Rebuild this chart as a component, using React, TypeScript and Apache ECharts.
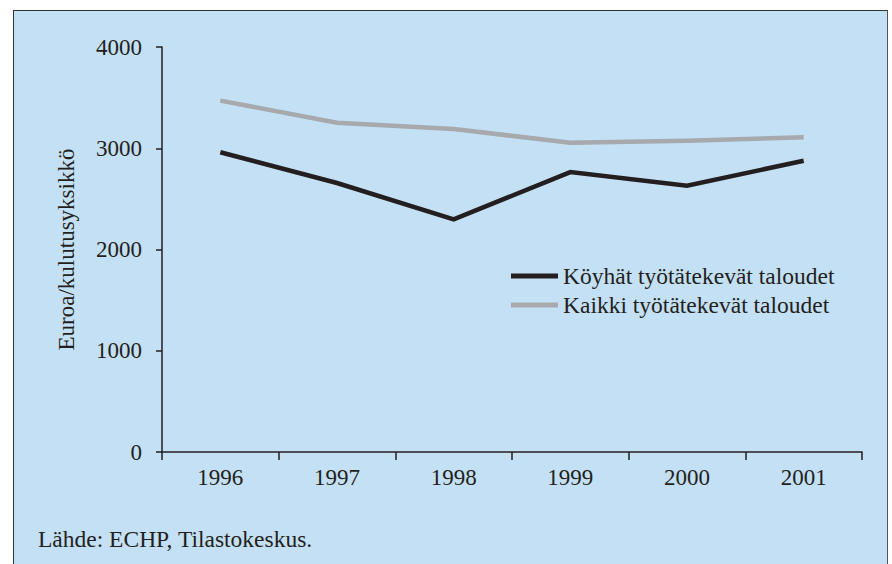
import React, { useEffect, useRef } from "react";
import * as echarts from "echarts";

const years = ["1996", "1997", "1998", "1999", "2000", "2001"];
const poorWorking = [2960, 2657, 2298, 2765, 2630, 2877];
const allWorking = [3470, 3252, 3190, 3055, 3075, 3108];
const seriesNames = ["Köyhät työtätekevät taloudet", "Kaikki työtätekevät taloudet"];
const yAxisTitle = "Euroa/kulutusyksikkö";
const sourceText = "Lähde: ECHP, Tilastokeskus.";

const FONT = "Liberation Serif";
const INK = "#231f20";
const GREY = "#a7a9ac";

export default function App() {
  const ref = useRef<HTMLDivElement>(null);
  useEffect(() => {
    if (!ref.current) return;
    const chart = echarts.init(ref.current, undefined, { renderer: "svg" });
    chart.setOption({
      animation: false,
      textStyle: { fontFamily: FONT, color: INK },
      grid: { left: 162, right: 30, top: 47, bottom: 112, containLabel: false },
      xAxis: {
        type: "category",
        data: years,
        boundaryGap: true,
        axisLine: { lineStyle: { color: INK, width: 1.5 } },
        axisTick: { show: true, length: 8, lineStyle: { color: INK, width: 1.5 } },
        axisLabel: { color: INK, fontSize: 23, fontFamily: FONT, margin: 14 },
      },
      yAxis: {
        type: "value",
        min: 0,
        max: 4000,
        interval: 1000,
        name: yAxisTitle,
        nameLocation: "middle",
        nameRotate: 90,
        nameGap: 84,
        nameTextStyle: { color: INK, fontSize: 23, fontFamily: FONT },
        axisLine: { show: true, lineStyle: { color: INK, width: 1.5 } },
        axisTick: { show: true, length: 6, lineStyle: { color: INK, width: 1.5 } },
        axisLabel: {
          color: INK,
          fontSize: 23,
          fontFamily: FONT,
          margin: 20,
          formatter: (v: number) => String(v),
        },
        splitLine: { show: false },
      },
      legend: {
        orient: "vertical",
        left: 511,
        top: 264,
        padding: 0,
        icon: "rect",
        itemWidth: 47,
        itemHeight: 5,
        itemGap: 5,
        textStyle: { color: INK, fontSize: 23.5, fontFamily: FONT },
        data: seriesNames,
      },
      graphic: [
        {
          type: "text",
          left: 38,
          top: 527,
          style: { text: sourceText, fill: INK, fontSize: 23.5, fontFamily: FONT },
        },
      ],
      series: [
        {
          name: seriesNames[0],
          type: "line",
          data: poorWorking,
          showSymbol: false,
          symbol: "none",
          itemStyle: { color: INK },
          lineStyle: { color: INK, width: 4.5, join: "miter" },
          z: 3,
        },
        {
          name: seriesNames[1],
          type: "line",
          data: allWorking,
          showSymbol: false,
          symbol: "none",
          itemStyle: { color: GREY },
          lineStyle: { color: GREY, width: 4.5, join: "miter" },
          z: 2,
        },
      ],
    });
    return () => chart.dispose();
  }, []);

  return (
    <div style={{ position: "fixed", left: 0, top: 0, width: 892, height: 564, background: "#ffffff", overflow: "hidden" }}>
      <div
        style={{
          position: "absolute",
          left: 13,
          top: 10,
          width: 875,
          height: 600,
          background: "#c4e0f4",
          borderLeft: "1.5px solid #333",
          borderTop: "1.5px solid #333",
          borderRight: "1.5px solid #555",
          boxSizing: "border-box",
        }}
      />
      <div ref={ref} style={{ position: "absolute", left: 0, top: 0, width: 892, height: 564 }} />
    </div>
  );
}
